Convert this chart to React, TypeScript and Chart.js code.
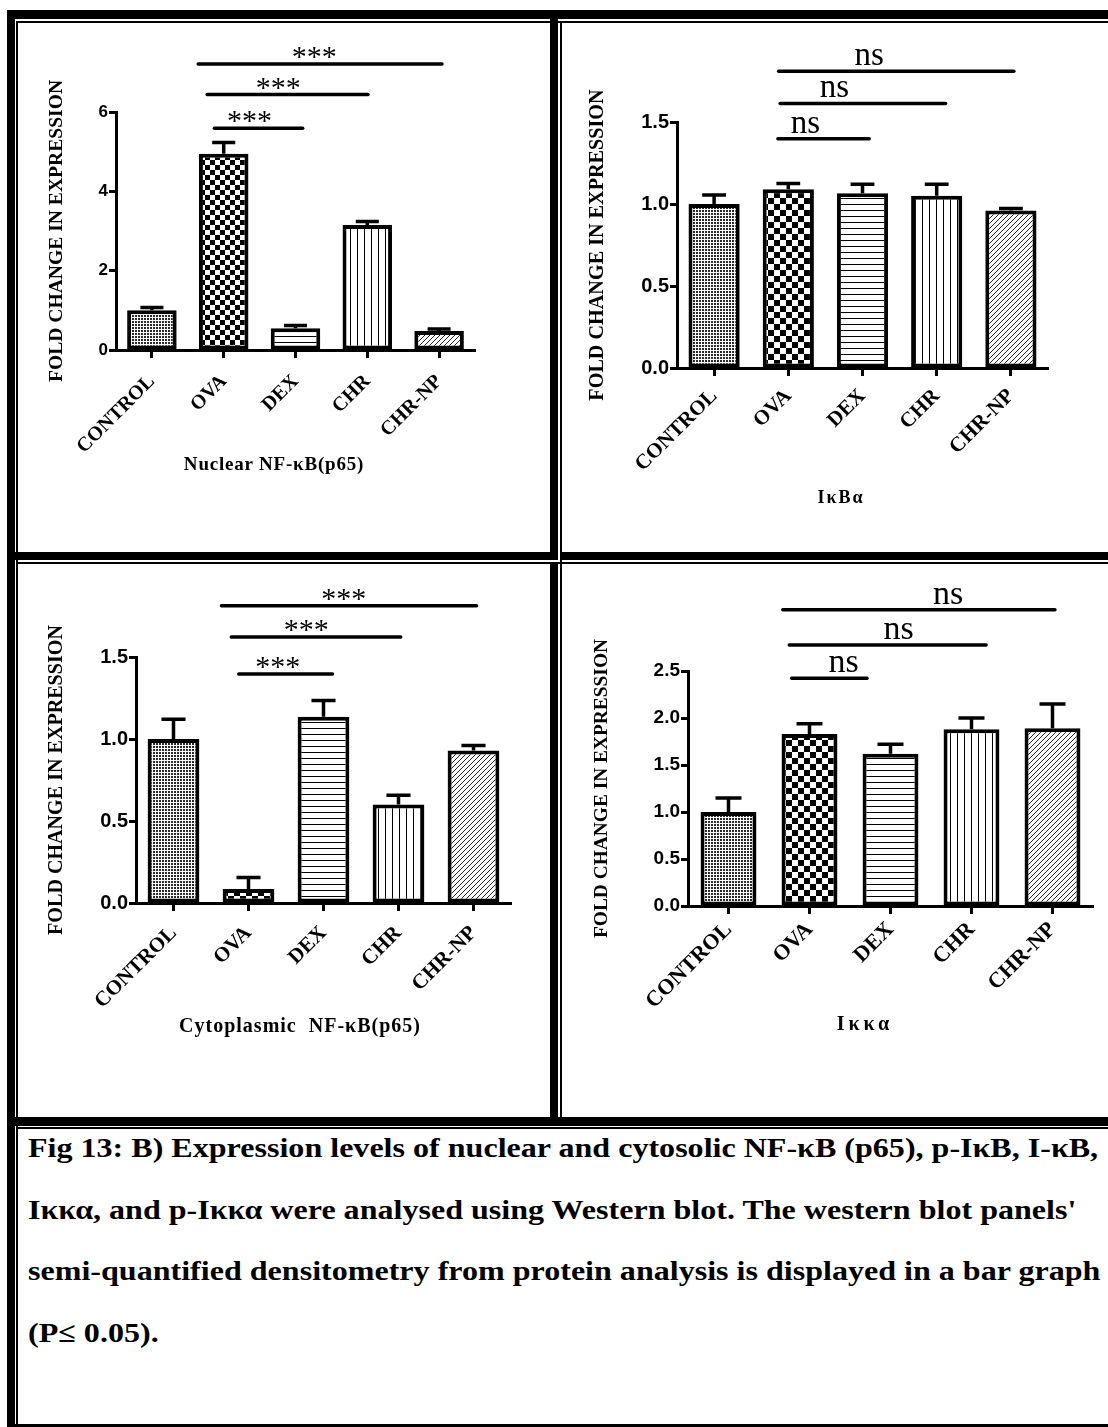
import React, { useEffect, useRef } from "react";
import { Chart, registerables } from "chart.js";

Chart.register(...registerables);

const SERIF = '"Liberation Serif", "Times New Roman", Times, serif';
const SANS = '"Liberation Sans", Arial, Helvetica, sans-serif';

// ---------- data ----------
const categories = ["CONTROL", "OVA", "DEX", "CHR", "CHR-NP"];
const yAxisTitle = "FOLD CHANGE IN EXPRESSION";

const nuclearMeans = [1.0, 4.95, 0.55, 3.15, 0.48];
const nuclearErrors = [0.07, 0.28, 0.07, 0.09, 0.05];
const nuclearTicks = ["0", "2", "4", "6"];
// [from category, to category, y value, label x (category units), label]
const nuclearBrackets: [number, number, number, number, string][] = [
  [0.87, 2.1, 5.59, 1.36, "***"],
  [0.77, 3.01, 6.44, 1.76, "***"],
  [0.645, 4.04, 7.21, 2.26, "***"],
];

const ikbaMeans = [1.0, 1.09, 1.065, 1.05, 0.96];
const ikbaErrors = [0.055, 0.035, 0.055, 0.07, 0.012];
const ikbaTicks = ["0.0", "0.5", "1.0", "1.5"];
const ikbaBrackets: [number, number, number, number, string][] = [
  [0.86, 2.09, 1.398, 1.23, "ns"],
  [0.89, 3.12, 1.613, 1.62, "ns"],
  [0.87, 4.04, 1.809, 2.09, "ns"],
];

const cytoMeans = [1.0, 0.085, 1.135, 0.6, 0.93];
const cytoErrors = [0.12, 0.07, 0.1, 0.057, 0.03];
const cytoTicks = ["0.0", "0.5", "1.0", "1.5"];
const cytoBrackets: [number, number, number, number, string][] = [
  [0.87, 2.12, 1.397, 1.39, "***"],
  [0.77, 3.03, 1.622, 1.77, "***"],
  [0.64, 4.04, 1.812, 2.27, "***"],
];

const ikkaMeans = [1.0, 1.83, 1.62, 1.88, 1.89];
const ikkaErrors = [0.15, 0.11, 0.1, 0.12, 0.26];
const ikkaTicks = ["0.0", "0.5", "1.0", "1.5", "2.0", "2.5"];
const ikkaBrackets: [number, number, number, number, string][] = [
  [0.78, 1.71, 2.424, 1.42, "ns"],
  [0.75, 3.18, 2.777, 2.1, "ns"],
  [0.67, 4.03, 3.152, 2.71, "ns"],
];

const captionLines = [
  "Fig 13: B) Expression levels of nuclear and cytosolic NF-\u03baB (p65), p-I\u03baB, I-\u03baB,",
  "I\u03ba\u03ba\u03b1, and p-I\u03ba\u03ba\u03b1 were analysed using Western blot. The western blot panels'",
  "semi-quantified densitometry from protein analysis is displayed in a bar graph",
  "(P\u2264 0.05).",
];

// ---------- layout / style ----------
interface PanelSpec {
  canvas: [number, number, number, number];
  area: [number, number, number, number];
  means: number[];
  errors: number[];
  ticks: string[];
  max: number;
  step: number;
  brackets: [number, number, number, number, string][];
  sigFont: number;
  sigShift: number;
  tickFont: number;
  catFont: number;
  catPad: number;
  titleFont: number;
  titleX: number;
  check: number;
  subtitle: string;
  subX: number;
  subY: number;
  subSize: number;
  subSpacing: number;
}

const panels: PanelSpec[] = [
  {
    canvas: [0, 0, 550, 551], area: [116, 112, 475, 350],
    means: nuclearMeans, errors: nuclearErrors, ticks: nuclearTicks, max: 6, step: 2,
    brackets: nuclearBrackets, sigFont: 30, sigShift: 2,
    tickFont: 17, catFont: 20, catPad: 12, titleFont: 19.6, titleX: 57, check: 5,
    subtitle: "Nuclear NF-\u03baB(p65)", subX: 274, subY: 464, subSize: 19, subSpacing: 0.8,
  },
  {
    canvas: [558, 0, 550, 551], area: [119, 122, 490, 368],
    means: ikbaMeans, errors: ikbaErrors, ticks: ikbaTicks, max: 1.5, step: 0.5,
    brackets: ikbaBrackets, sigFont: 33, sigShift: -6,
    tickFont: 20, catFont: 21, catPad: 8, titleFont: 20.2, titleX: 40, check: 6,
    subtitle: "I\u03baB\u03b1", subX: 841, subY: 497, subSize: 18, subSpacing: 2,
  },
  {
    canvas: [0, 560, 550, 557], area: [136, 97, 511, 343],
    means: cytoMeans, errors: cytoErrors, ticks: cytoTicks, max: 1.5, step: 0.5,
    brackets: cytoBrackets, sigFont: 30, sigShift: 2,
    tickFont: 20, catFont: 21, catPad: 10, titleFont: 20.1, titleX: 57, check: 6,
    subtitle: "Cytoplasmic\u00a0\u00a0NF-\u03baB(p65)", subX: 300, subY: 1025, subSize: 20, subSpacing: 1,
  },
  {
    canvas: [558, 560, 550, 557], area: [130, 111, 535, 346],
    means: ikkaMeans, errors: ikkaErrors, ticks: ikkaTicks, max: 2.5, step: 0.5,
    brackets: ikkaBrackets, sigFont: 34, sigShift: -6,
    tickFont: 19, catFont: 22, catPad: 3, titleFont: 19.4, titleX: 44, check: 6,
    subtitle: "I\u03ba\u03ba\u03b1", subX: 865, subY: 1023, subSize: 20, subSpacing: 4,
  },
];

function makePattern(kind: string, cell: number): CanvasPattern | string {
  const c = document.createElement("canvas");
  const g = c.getContext("2d");
  if (!g) return "#fff";
  if (kind === "fine") {
    c.width = 3; c.height = 3;
    g.fillStyle = "#fff"; g.fillRect(0, 0, 3, 3);
    g.fillStyle = "#2a2a2a"; g.fillRect(0, 0, 2, 2);
  } else if (kind === "check") {
    c.width = cell * 2; c.height = cell * 2;
    g.fillStyle = "#fff"; g.fillRect(0, 0, cell * 2, cell * 2);
    g.fillStyle = "#000"; g.fillRect(0, 0, cell, cell); g.fillRect(cell, cell, cell, cell);
  } else if (kind === "hlines") {
    c.width = 8; c.height = cell;
    g.fillStyle = "#fff"; g.fillRect(0, 0, 8, cell);
    g.fillStyle = "#000"; g.fillRect(0, 0, 8, 1);
  } else if (kind === "vlines") {
    c.width = cell; c.height = 8;
    g.fillStyle = "#fff"; g.fillRect(0, 0, cell, 8);
    g.fillStyle = "#000"; g.fillRect(0, 0, 1, 8);
  } else {
    c.width = cell; c.height = cell;
    g.fillStyle = "#fff"; g.fillRect(0, 0, cell, cell);
    g.strokeStyle = "#222"; g.lineWidth = 1;
    g.beginPath(); g.moveTo(-1, cell + 1); g.lineTo(cell + 1, -1); g.stroke();
    g.beginPath(); g.moveTo(-1, 1); g.lineTo(1, -1); g.stroke();
    g.beginPath(); g.moveTo(cell - 1, cell + 1); g.lineTo(cell + 1, cell - 1); g.stroke();
  }
  return g.createPattern(c, "repeat") || "#fff";
}

function errorBarPlugin(errors: number[]) {
  return {
    id: "errorBars",
    afterDatasetsDraw(chart: any) {
      const meta = chart.getDatasetMeta(0);
      const ys = chart.scales.y;
      const ctx = chart.ctx;
      const values = chart.data.datasets[0].data as number[];
      ctx.save();
      ctx.strokeStyle = "#000";
      ctx.lineWidth = 3.5;
      meta.data.forEach((bar: any, i: number) => {
        const top = ys.getPixelForValue(values[i] + errors[i]);
        const half = bar.width / 4.3;
        ctx.beginPath();
        ctx.moveTo(bar.x, bar.y);
        ctx.lineTo(bar.x, top);
        ctx.moveTo(bar.x - half, top);
        ctx.lineTo(bar.x + half, top);
        ctx.stroke();
      });
      ctx.restore();
    },
  };
}

function bracketPlugin(brackets: [number, number, number, number, string][], fontSize: number, shift: number) {
  return {
    id: "sigBrackets",
    afterDraw(chart: any) {
      const xs = chart.scales.x;
      const ys = chart.scales.y;
      const ctx = chart.ctx;
      ctx.save();
      ctx.strokeStyle = "#000";
      ctx.fillStyle = "#000";
      ctx.lineWidth = 3.5;
      ctx.lineCap = "round";
      ctx.font = `${fontSize}px ${SERIF}`;
      ctx.textAlign = "center";
      ctx.textBaseline = "alphabetic";
      for (const [from, to, y, lx, label] of brackets) {
        const py = ys.getPixelForValue(y);
        ctx.beginPath();
        ctx.moveTo(xs.getPixelForValue(from), py);
        ctx.lineTo(xs.getPixelForValue(to), py);
        ctx.stroke();
        ctx.fillText(label, xs.getPixelForValue(lx), py + shift);
      }
      ctx.restore();
    },
  };
}

function Panel({ spec }: { spec: PanelSpec }) {
  const ref = useRef<HTMLCanvasElement>(null);
  useEffect(() => {
    const canvas = ref.current;
    if (!canvas) return;
    const [, , cw, ch] = spec.canvas;
    const [aL, aT, aR, aB] = spec.area;
    const fills = [
      makePattern("fine", 3),
      makePattern("check", spec.check),
      makePattern("hlines", 6),
      makePattern("vlines", 7),
      makePattern("diag", 5),
    ];
    const titleLH = spec.titleFont * 1.2;
    const chart = new Chart(canvas, {
      type: "bar",
      data: {
        labels: categories,
        datasets: [
          {
            data: spec.means,
            backgroundColor: fills as any,
            borderColor: "#000",
            borderWidth: 4,
            borderSkipped: false,
            categoryPercentage: 0.69,
            barPercentage: 1,
          },
        ],
      },
      options: {
        responsive: false,
        animation: false,
        devicePixelRatio: 1,
        events: [],
        layout: { padding: { left: 0, top: aT, right: cw - aR, bottom: 0 } },
        plugins: {
          legend: { display: false },
          tooltip: { enabled: false },
          title: { display: false },
        },
        scales: {
          x: {
            type: "category",
            offset: true,
            grid: {
              display: true,
              offset: false,
              drawOnChartArea: false,
              drawTicks: true,
              tickLength: 8,
              tickWidth: 3,
              tickColor: "#000",
              color: "#000",
            },
            border: { display: true, color: "#000", width: 3 },
            ticks: {
              autoSkip: false,
              maxRotation: 45,
              minRotation: 45,
              padding: spec.catPad,
              color: "#000",
              font: { family: SERIF, size: spec.catFont, weight: "bold" },
            },
            afterFit: (s: any) => {
              s.height = ch - aB;
              s.paddingLeft = 0; s.paddingRight = 0; s.paddingTop = 0; s.paddingBottom = 0;
            },
          },
          y: {
            type: "linear",
            min: 0,
            max: spec.max,
            ticks: {
              stepSize: spec.step,
              padding: 1,
              color: "#000",
              font: { family: SANS, size: spec.tickFont, weight: "bold" },
              callback: (_v: any, i: number) => spec.ticks[i],
            },
            grid: {
              display: true,
              drawOnChartArea: false,
              drawTicks: true,
              tickLength: 7,
              tickWidth: 3,
              tickColor: "#000",
            },
            border: { display: true, color: "#000", width: 3 },
            title: {
              display: true,
              text: yAxisTitle,
              color: "#000",
              font: { family: SERIF, size: spec.titleFont, weight: "bold" },
              padding: { top: spec.titleX - titleLH / 2, bottom: 0 },
            },
            afterFit: (s: any) => {
              s.width = aL;
              s.paddingLeft = 0; s.paddingRight = 0; s.paddingTop = 0; s.paddingBottom = 0;
            },
          },
        },
      } as any,
      plugins: [errorBarPlugin(spec.errors), bracketPlugin(spec.brackets, spec.sigFont, spec.sigShift)],
    });
    return () => chart.destroy();
  }, [spec]);
  const [l, t, w, h] = spec.canvas;
  return (
    <>
      <canvas
        ref={ref}
        width={w}
        height={h}
        style={{ position: "absolute", left: l, top: t, width: w, height: h }}
      />
      <div
        style={{
          position: "absolute",
          left: spec.subX - 200,
          top: spec.subY - 15,
          width: 400,
          height: 30,
          lineHeight: "30px",
          textAlign: "center",
          fontFamily: SERIF,
          fontWeight: "bold",
          fontSize: spec.subSize,
          letterSpacing: spec.subSpacing,
          color: "#000",
          whiteSpace: "nowrap",
        }}
      >
        {spec.subtitle}
      </div>
    </>
  );
}

const borderRects: [number, number, number, number][] = [
  [7, 10, 1101, 9],
  [16, 21, 1092, 2],
  [7, 10, 8, 1417],
  [16, 21, 2, 1403],
  [7, 1424, 1101, 3],
  [550, 19, 8, 541],
  [550, 562, 8, 556],
  [560, 21, 2, 1096],
  [15, 552, 543, 8],
  [560, 552, 548, 8],
  [16, 562, 1092, 2],
  [15, 1117, 1093, 9],
  [16, 1127, 1092, 2],
];

export default function App() {
  return (
    <div
      style={{
        position: "absolute",
        left: 0,
        top: 0,
        width: 1108,
        height: 1427,
        overflow: "hidden",
        background: "#fff",
      }}
    >
      {borderRects.map(([x, y, w, h], i) => (
        <div key={"b" + i} style={{ position: "absolute", left: x, top: y, width: w, height: h, background: "#000" }} />
      ))}
      {panels.map((p, i) => (
        <Panel key={"p" + i} spec={p} />
      ))}
      {captionLines.map((line, i) => (
        <div
          key={"c" + i}
          style={{
            position: "absolute",
            left: 28,
            top: 1128 + i * 61.7,
            height: 40,
            lineHeight: "40px",
            fontFamily: SERIF,
            fontWeight: "bold",
            fontSize: 28,
            color: "#000",
            whiteSpace: "nowrap",
            transform: "scaleX(1.145)",
            transformOrigin: "0 0",
          }}
        >
          {line}
        </div>
      ))}
    </div>
  );
}
